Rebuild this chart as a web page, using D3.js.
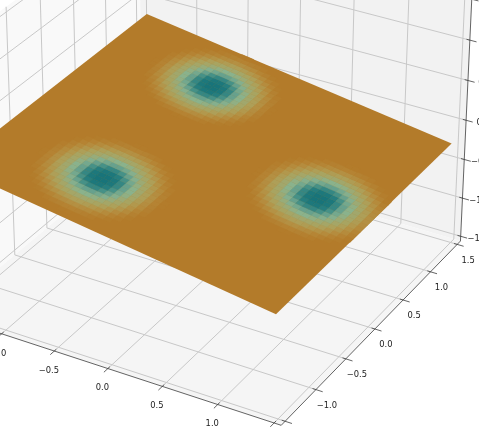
<!DOCTYPE html>
<html>
  <head>
    <meta charset="utf-8">
    <title>Surface</title>
    <script src="https://d3js.org/d3.v7.min.js"></script>
    <style>
      body { margin: 0; background: #fff; }
      svg { display: block; filter: blur(0.35px); }
      text { font-family: "DejaVu Sans"; font-size: 8.4px; fill: #222; text-anchor: middle; }
    </style>
  </head>
  <body>
    <div id="chart"></div>
    <script>
// tick positions and the labels that show inside the picture
var xTicks = [-1.5, -1.0, -0.5, 0.0, 0.5, 1.0, 1.5];
var yTicks = [-1.5, -1.0, -0.5, 0.0, 0.5, 1.0, 1.5];
var zTicks = [-1.5, -1.0, -0.5, 0.0, 0.5, 1.0, 1.5];
var xLabels = [-1.0, -0.5, 0.0, 0.5, 1.0];
var yLabels = [-1.0, -0.5, 0.0, 0.5, 1.0, 1.5];
var zLabels = [-1.5, -1.0, -0.5, 0.0, 0.5];
var axisEdge = 1.5625;

// surface: 50 x 50 cells, tilted plane
var cellCount = 50;
var surfaceXRange = [-1.46, 1.47];
var surfaceYRange = [-1.5, 1.5];
var surfaceHeights = [0.30, -0.29];

// colour level of one quarter of a bump, outward from its centre
var bumpQuadrant = [
  [9, 8.7, 7.6, 6.2, 5, 3.9, 2.8, 1.8, .8, .1],
  [8.7, 8.2, 7, 5.8, 4.7, 3.6, 2.6, 1.6, .7, 0],
  [7.6, 7, 6.2, 5.2, 4.2, 3.3, 2.3, 1.4, .5, 0],
  [6.2, 5.8, 5.2, 4.4, 3.6, 2.8, 1.9, 1, .3, 0],
  [5, 4.7, 4.2, 3.6, 2.9, 2.2, 1.4, .6, 0, 0],
  [3.9, 3.6, 3.3, 2.8, 2.2, 1.5, .8, .2, 0, 0],
  [2.8, 2.6, 2.3, 1.9, 1.4, .8, .3, 0, 0, 0],
  [1.8, 1.6, 1.4, 1, .6, .2, 0, 0, 0, 0],
  [.8, .7, .5, .3, 0, 0, 0, 0, 0, 0],
  [.1, 0, 0, 0, 0, 0, 0, 0, 0, 0]
];
// grid corner at the centre of each bump
var bumpColumns = [17, 17, 42];
var bumpRows = [40, 11, 26];

var levels = [0, 1, 2, 3, 4, 5, 6, 7, 8, 9];
var levelColors = ["#b37b2a", "#b58535", "#b49347", "#aca25c", "#a0a86e", "#8ab28c", "#6fa58f", "#469187", "#2a8080", "#18747a"];

var width = 479, height = 434;

// projection matrix fitted to the axis ticks
var camera = [
  103.80255, 67.80678, -2.96604, 206.76681,
  28.43868, -49.20935, -82.21634, 154.99194,
  -0.016621, 0.028696, -0.014435, 1
];
function project(p) {
  var w = camera[8]*p[0] + camera[9]*p[1] + camera[10]*p[2] + camera[11];
  return [(camera[0]*p[0] + camera[1]*p[1] + camera[2]*p[2] + camera[3])/w,
          (camera[4]*p[0] + camera[5]*p[1] + camera[6]*p[2] + camera[7])/w];
}

var color = d3.scaleLinear().domain(levels).range(levelColors);
var cellX = d3.scaleLinear().domain([0, cellCount]).range(surfaceXRange);
var cellY = d3.scaleLinear().domain([0, cellCount]).range(surfaceYRange);
var heightScale = d3.scaleLinear().domain(surfaceXRange).range(surfaceHeights);
var line = d3.line().x(function(d){ return project(d)[0]; }).y(function(d){ return project(d)[1]; });

var svg = d3.select("#chart").append("svg").attr("width", width).attr("height", height);
var e = axisEdge;

// panes
var panes = [
  {fill: "#f9f9f9", pts: [[-e,-e,-e],[-e,e,-e],[-e,e,e],[-e,-e,e]]},
  {fill: "#f2f2f2", pts: [[-e,e,-e],[e,e,-e],[e,e,e],[-e,e,e]]},
  {fill: "#f5f5f5", pts: [[-e,-e,-e],[e,-e,-e],[e,e,-e],[-e,e,-e]]}
];
svg.selectAll(".pane").data(panes).enter().append("path")
  .attr("class", "pane")
  .attr("d", function(d){ return line(d.pts) + "Z"; })
  .attr("fill", function(d){ return d.fill; });

// grid lines
var gridLines = [];
xTicks.forEach(function(x){
  gridLines.push([[x,-e,-e],[x,e,-e]]);
  gridLines.push([[x,e,-e],[x,e,e]]);
});
yTicks.forEach(function(y){
  gridLines.push([[e,y,-e],[-e,y,-e]]);
  gridLines.push([[-e,y,-e],[-e,y,e]]);
});
zTicks.forEach(function(z){
  gridLines.push([[-e,-e,z],[-e,e,z]]);
  gridLines.push([[-e,e,z],[e,e,z]]);
});
svg.selectAll(".grid").data(gridLines).enter().append("path")
  .attr("class", "grid")
  .attr("d", line)
  .attr("fill", "none")
  .attr("stroke", "#c8c8c8")
  .attr("stroke-width", 1);

// axis lines and tick marks
var axisLines = [
  [[-e,-e,-e],[e,-e,-e]],
  [[e,-e,-e],[e,e,-e]],
  [[e,e,-e],[e,e,e]]
];
xTicks.forEach(function(x){ axisLines.push([[x,-e-0.06,-e],[x,-e+0.03,-e]]); });
yTicks.forEach(function(y){ axisLines.push([[e-0.03,y,-e],[e+0.06,y,-e]]); });
zTicks.forEach(function(z){ axisLines.push([[e-0.03,e,z],[e+0.06,e,z]]); });
svg.selectAll(".axis").data(axisLines).enter().append("path")
  .attr("class", "axis")
  .attr("d", line)
  .attr("fill", "none")
  .attr("stroke", "#3c3c3c")
  .attr("stroke-width", 0.8);

// tick labels, text offsets in pixels from the tick
function tickText(name, ticks, point, dx, dy) {
  svg.selectAll("." + name).data(ticks).enter().append("text")
    .attr("class", name)
    .attr("x", function(d){ return project(point(d))[0] + dx; })
    .attr("y", function(d){ return project(point(d))[1] + dy; })
    .attr("dy", "0.35em")
    .text(function(d){ return d3.format(".1f")(d).replace("-", "\u2212"); });
}
tickText("xlab", xLabels, function(d){ return [d,-e,-e]; }, -5.5, 19);
tickText("ylab", yLabels, function(d){ return [e,d,-e]; }, 11, 15.5);
tickText("zlab", zLabels, function(d){ return [e,e,d]; }, 17, 2);

// surface cells, each quarter mirrored round the bump centre
var cellLevels = d3.range(cellCount).map(function(){ return d3.range(cellCount).map(function(){ return 0; }); });
bumpColumns.forEach(function(c, b){
  bumpQuadrant.forEach(function(row, r){
    row.forEach(function(v, k){
      [[c+k, bumpRows[b]+r], [c-k-1, bumpRows[b]+r], [c+k, bumpRows[b]-r-1], [c-k-1, bumpRows[b]-r-1]].forEach(function(q){
        if (q[0] >= 0 && q[0] < cellCount && q[1] >= 0 && q[1] < cellCount) cellLevels[q[1]][q[0]] = v;
      });
    });
  });
});
var cells = [];
d3.range(cellCount).forEach(function(j){
  d3.range(cellCount).forEach(function(i){
    if (cellLevels[j][i] > 0) cells.push({i: i, j: j, level: cellLevels[j][i]});
  });
});
function corner(i, j) {
  var x = cellX(i);
  return [x, cellY(j), heightScale(x)];
}
svg.append("path")
  .attr("d", line([corner(0,0), corner(cellCount,0), corner(cellCount,cellCount), corner(0,cellCount)]) + "Z")
  .attr("fill", color(0));
svg.selectAll(".cell").data(cells).enter().append("path")
  .attr("class", "cell")
  .attr("d", function(d){
    return line([corner(d.i,d.j), corner(d.i+1,d.j), corner(d.i+1,d.j+1), corner(d.i,d.j+1)]) + "Z";
  })
  .attr("fill", function(d){ return color(d.level); })
  .attr("stroke", function(d){ return color(d.level); })
  .attr("stroke-width", 0.4);
    </script>
  </body>
</html>
